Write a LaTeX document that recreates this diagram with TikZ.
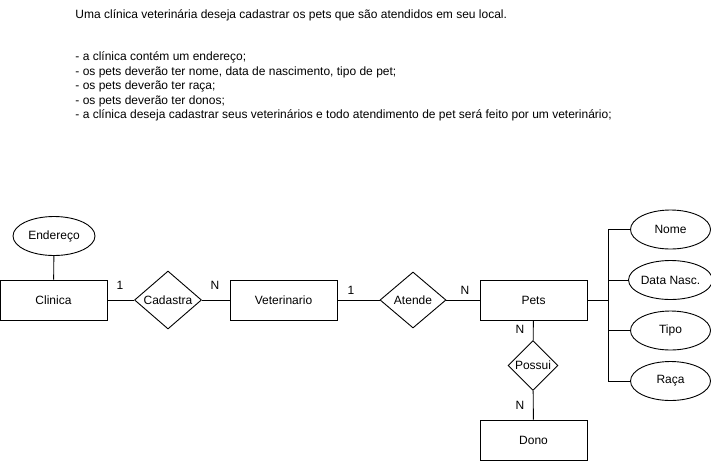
\documentclass[tikz,border=0pt]{standalone}
\usepackage{fontspec}
\setmainfont{Liberation Sans}
\usetikzlibrary{positioning,shapes.geometric}

\begin{document}
\begin{tikzpicture}[x=1pt,y=-1pt,line width=.9pt,%
	font=\fontsize{12}{14.4}\selectfont,%
	entidade/.style={draw, minimum width=107pt, minimum height=40pt, inner sep=0pt},%
	atributo/.style={draw, ellipse, minimum width=80pt, minimum height=39pt, inner sep=0pt},%
	relacao/.style={draw, diamond, inner sep=0pt},%
	card/.style={inner sep=0pt},%
	texto/.style={anchor=west, inner sep=0pt}]
	\useasboundingbox (0,0) rectangle (711,461);

	% enunciado
	\node[texto] (titulo) at (75,15) {Uma clínica veterinária deseja cadastrar os pets que são atendidos em seu local.};
	\foreach \t [count=\i] in {%
		{- a clínica contém um endereço;},%
		{- os pets deverão ter nome, data de nascimento, tipo de pet;},%
		{- os pets deverão ter raça;},%
		{- os pets deverão ter donos;},%
		{- a clínica deseja cadastrar seus veterinários e todo atendimento de pet será feito por um veterinário;}}{%
		\node[texto] (item\i) at (75,43.4+14.4*\i) {\t};
	}

	% entidades e relacoes
	\node[entidade] (clinica) at (53.5,300) {Clinica};
	\node[atributo, minimum width=82pt] (endereco) at (54,236) {Endereço};
	\node[relacao, minimum width=67pt, minimum height=58pt] (cadastra) at (168,300) {Cadastra};
	\node[entidade] (veterinario) at (283.5,300) {Veterinario};
	\node[relacao, minimum width=66pt, minimum height=56pt] (atende) at (413,300) {Atende};
	\node[entidade] (pets) at (533.5,300) {Pets};
	\node[relacao, minimum width=50pt, minimum height=50pt] (possui) at (533,365.5) {Possui};
	\node[entidade] (dono) at (533.5,440) {Dono};

	\node[atributo] (nome) at (670.5,229.5) {Nome};
	\node[atributo] (data) at (670.5,280) {Data Nasc.};
	\node[atributo] (tipo) at (670.5,330.5) {Tipo};
	\node[atributo] (raca) at (670.5,381) {Raça};

	\draw (endereco) -- (clinica);
	\draw (clinica) -- (cadastra) -- (veterinario) -- (atende) -- (pets);
	\draw (pets) -- (possui) -- (dono);
	\foreach \a in {nome,data,tipo,raca}{
		\draw (pets.east) -- ++(21,0) |- (\a.west);
	}

	% cardinalidades
	\node[card] (c1) at (120,285) {1};
	\node[card] (c2) at (215,285) {N};
	\node[card] (c3) at (351,290) {1};
	\node[card] (c4) at (465,290) {N};
	\node[card] (c5) at (520,329) {N};
	\node[card] (c6) at (520,405) {N};
\end{tikzpicture}
\end{document}
